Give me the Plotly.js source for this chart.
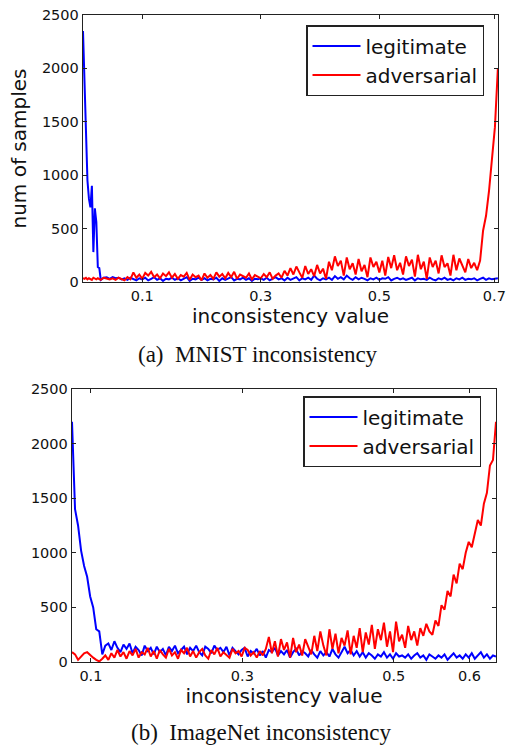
<!DOCTYPE html>
<html>
<head>
<meta charset="utf-8">
<script src="https://cdn.plot.ly/plotly-3.0.1.min.js"></script>
<style>html,body{margin:0;padding:0;background:#fff;}#chart{width:506px;height:745px;}</style>
</head>
<body>
<div id="chart"></div>
<script>
// ---------- (a) MNIST ----------
const mnistX = [0,0.0025,0.005,0.0075,0.01,0.0125,0.015,0.0175,0.02,0.0225,0.025,0.0275,0.03,
0.035,0.04,0.045,
0.05,0.055,0.06,0.065,0.07,0.075,0.08,0.085,0.09,0.095,
0.1,0.105,0.11,0.115,0.12,0.125,0.13,0.135,0.14,0.145,
0.15,0.155,0.16,0.165,0.17,0.175,0.18,0.185,0.19,0.195,
0.2,0.205,0.21,0.215,0.22,0.225,0.23,0.235,0.24,0.245,
0.25,0.255,0.26,0.265,0.27,0.275,0.28,0.285,0.29,0.295,
0.3,0.305,0.31,0.315,0.32,0.325,0.33,0.335,0.34,0.345,
0.35,0.355,0.36,0.365,0.37,0.375,0.38,0.385,0.39,0.395,
0.4,0.405,0.41,0.415,0.42,0.425,0.43,0.435,0.44,0.445,
0.45,0.455,0.46,0.465,0.47,0.475,0.48,0.485,0.49,0.495,
0.5,0.505,0.51,0.515,0.52,0.525,0.53,0.535,0.54,0.545,
0.55,0.555,0.56,0.565,0.57,0.575,0.58,0.585,0.59,0.595,
0.6,0.605,0.61,0.615,0.62,0.625,0.63,0.635,0.64,0.645,
0.65,0.655,0.66,0.665,0.67,0.675,0.68,0.685,0.69,0.695,
0.7];

const mnistLegit = [2350,1900,1400,950,780,700,900,280,690,560,140,130,20,
40,45,30,
45,35,40,25,35,20,40,30,15,35,
25,40,15,30,45,20,35,10,30,25,
40,20,35,15,30,45,10,30,25,40,
20,35,15,30,25,40,10,35,20,30,
45,15,30,25,40,20,35,10,30,25,
35,20,40,15,30,45,25,35,15,40,
20,30,45,15,35,25,40,20,60,30,
15,35,25,40,20,55,30,45,25,60,
35,20,45,25,40,30,15,35,25,40,
20,35,30,45,15,30,40,25,35,20,
30,40,15,35,25,30,20,40,25,15,
35,25,40,20,30,15,35,25,40,20,
30,25,35,15,30,40,20,35,25,30,
35];

const mnistAdv = [35,30,40,25,35,30,20,40,30,25,35,30,20,
40,30,25,
35,20,40,30,15,45,25,90,40,70,
30,85,60,95,45,70,35,80,55,90,
40,75,30,65,50,85,20,70,45,60,
15,80,40,65,30,90,50,75,35,85,
45,95,30,70,55,40,80,25,65,50,
35,75,45,90,30,60,80,40,105,60,
130,70,145,90,40,150,75,120,55,160,
80,125,30,190,110,240,150,200,60,230,
120,175,70,215,100,160,45,230,140,190,
90,200,60,235,130,250,110,180,70,240,
150,210,50,255,120,190,30,230,140,200,
80,250,140,175,60,255,110,220,160,90,
215,130,180,110,200,480,620,850,1150,1450,
2000];

// tick positions (last label sits just inside the right frame, as in the reference)
const mnistTickVals = [0.1,0.3,0.5,0.694];
const mnistTickText = ['0.1','0.3','0.5','0.7'];

// ---------- (b) ImageNet ----------
const imagenetX = [0.075,0.079,0.083,0.087,0.091,0.095,0.099,0.103,0.107,0.111,
0.115,0.119,0.123,0.127,0.131,0.135,0.139,0.143,0.147,0.151,
0.155,0.159,0.163,0.167,0.171,0.175,0.179,0.183,0.187,0.191,
0.195,0.199,0.203,0.207,0.211,0.215,0.219,0.223,0.227,0.231,
0.235,0.239,0.243,0.247,0.251,0.255,0.259,0.263,0.267,0.271,
0.275,0.279,0.283,0.287,0.291,0.295,0.299,0.303,0.307,0.311,
0.315,0.319,0.323,0.327,0.331,0.335,0.339,0.343,0.347,0.351,
0.355,0.359,0.363,0.367,0.371,0.375,0.379,0.383,0.387,0.391,
0.395,0.399,0.403,0.407,0.411,0.415,0.419,0.423,0.427,0.431,
0.435,0.439,0.443,0.447,0.451,0.455,0.459,0.463,0.467,0.471,
0.475,0.479,0.483,0.487,0.491,0.495,0.499,0.503,0.507,0.511,
0.515,0.519,0.523,0.527,0.531,0.535,0.539,0.543,0.547,0.551,
0.555,0.559,0.563,0.567,0.571,0.575,0.579,0.583,0.587,0.591,
0.595,0.599,0.603,0.607,0.611,0.615,0.619,0.623,0.627,0.631,
0.635];

const imagenetLegit = [2200,1400,1250,1020,880,780,600,500,300,280,
70,150,170,110,190,130,90,160,120,170,
80,140,110,60,150,100,130,70,140,90,
120,60,140,100,150,80,110,140,70,130,
100,150,90,60,140,120,80,150,110,130,
90,140,60,130,100,70,110,130,50,100,
80,120,60,100,40,110,90,130,60,100,
70,110,40,90,120,60,100,80,50,110,
70,40,100,60,90,50,120,70,40,90,
140,80,110,60,100,50,90,40,80,60,
30,70,50,90,40,70,30,80,50,60,
40,70,30,60,80,40,60,20,70,50,
30,60,40,70,20,50,80,40,60,30,
70,40,80,30,60,90,40,70,30,60,
50];

const imagenetAdv = [90,70,20,50,80,90,60,40,20,5,
30,60,20,80,40,110,50,90,30,100,
60,120,40,90,70,130,50,100,30,110,
70,40,120,60,90,30,110,80,130,50,
100,40,90,120,60,30,110,70,130,50,
90,60,40,120,80,100,50,130,110,60,
90,40,100,60,120,230,80,190,50,210,
110,180,40,220,90,160,60,210,130,70,
240,100,280,150,60,300,120,260,80,220,
150,290,70,240,130,310,90,270,160,340,
120,300,200,360,140,280,90,370,190,250,
130,330,200,280,150,310,240,350,280,250,
380,330,520,480,650,600,800,720,900,850,
1000,1100,1050,1180,1300,1250,1450,1550,1800,1850,
2200];

const imagenetTickVals = [0.1,0.3,0.5,0.6];
const imagenetTickText = ['0.1','0.3','0.5','0.6'];

const yTickVals = [0,500,1000,1500,2000,2500];
const seriesNames = ['legitimate','adversarial'];
const seriesColors = ['#0000ff','#ff0000'];
const captions = ['(a)  MNIST inconsistency','(b)  ImageNet inconsistency'];

const W = 506, H = 745;
const px = v => v / W;
const py = v => (H - v) / H;

const tickFont = {family: 'DejaVu Sans, sans-serif', size: 14.5, color: '#111'};
const titleFont = {family: 'DejaVu Sans, sans-serif', size: 20, color: '#111'};

function mkX(domain, anchor, range, vals, text) {
  return {
    domain: domain, anchor: anchor, range: range,
    tickmode: 'array', tickvals: vals, ticktext: text,
    ticks: 'inside', ticklen: 4, tickwidth: 1, tickcolor: '#222',
    showline: true, linecolor: '#222', linewidth: 1.3, mirror: 'ticks',
    showgrid: false, zeroline: false, tickfont: tickFont,
    ticklabeloverflow: 'allow',
    title: {text: 'inconsistency value', font: titleFont, standoff: 4},
    automargin: false
  };
}
function mkY(domain, anchor, withTitle) {
  const a = {
    domain: domain, anchor: anchor, range: [0, 2500],
    tickmode: 'array', tickvals: yTickVals,
    ticks: 'inside', ticklen: 4, tickwidth: 1, tickcolor: '#222',
    showline: true, linecolor: '#222', linewidth: 1.3, mirror: 'ticks',
    showgrid: false, zeroline: false, tickfont: tickFont,
    ticklabeloverflow: 'allow',
    automargin: false
  };
  if (withTitle) a.title = {text: 'num of samples', font: titleFont, standoff: 10};
  return a;
}

const traces = [
  {x: mnistX, y: mnistLegit, name: seriesNames[0], type: 'scatter', mode: 'lines',
   line: {color: seriesColors[0], width: 2}, xaxis: 'x', yaxis: 'y', legend: 'legend'},
  {x: mnistX, y: mnistAdv, name: seriesNames[1], type: 'scatter', mode: 'lines',
   line: {color: seriesColors[1], width: 2}, xaxis: 'x', yaxis: 'y', legend: 'legend'},
  {x: imagenetX, y: imagenetLegit, name: seriesNames[0], type: 'scatter', mode: 'lines',
   line: {color: seriesColors[0], width: 2}, xaxis: 'x2', yaxis: 'y2', legend: 'legend2'},
  {x: imagenetX, y: imagenetAdv, name: seriesNames[1], type: 'scatter', mode: 'lines',
   line: {color: seriesColors[1], width: 2}, xaxis: 'x2', yaxis: 'y2', legend: 'legend2'}
];

const legendBase = {
  bgcolor: '#fff', bordercolor: '#222', borderwidth: 1.5,
  font: {family: 'DejaVu Sans, sans-serif', size: 20, color: '#111'},
  xanchor: 'left', yanchor: 'top', itemwidth: 48, tracegroupgap: 0
};

const layout = {
  width: W, height: H,
  margin: {l: 0, r: 0, t: 0, b: 0, pad: 0},
  paper_bgcolor: '#fff', plot_bgcolor: '#fff',
  showlegend: true,
  xaxis: mkX([px(83), px(498)], 'y', [0, 0.7002], mnistTickVals, mnistTickText),
  yaxis: mkY([py(282), py(15)], 'x', true),
  xaxis2: mkX([px(72), px(496)], 'y2', [0.075, 0.635], imagenetTickVals, imagenetTickText),
  yaxis2: mkY([py(662), py(389)], 'x2', false),
  legend: Object.assign({}, legendBase, {x: px(306), y: py(25)}),
  legend2: Object.assign({}, legendBase, {x: px(303), y: py(396)}),
  annotations: [
    {text: captions[0], xref: 'paper', yref: 'paper', x: px(258), y: py(354),
     xanchor: 'center', yanchor: 'middle', showarrow: false,
     font: {family: 'Liberation Serif, Times New Roman, serif', size: 23, color: '#111'}},
    {text: captions[1], xref: 'paper', yref: 'paper', x: px(261), y: py(732),
     xanchor: 'center', yanchor: 'middle', showarrow: false,
     font: {family: 'Liberation Serif, Times New Roman, serif', size: 23, color: '#111'}}
  ]
};

Plotly.newPlot('chart', traces, layout, {displayModeBar: false, staticPlot: true});
</script>
</body>
</html>
